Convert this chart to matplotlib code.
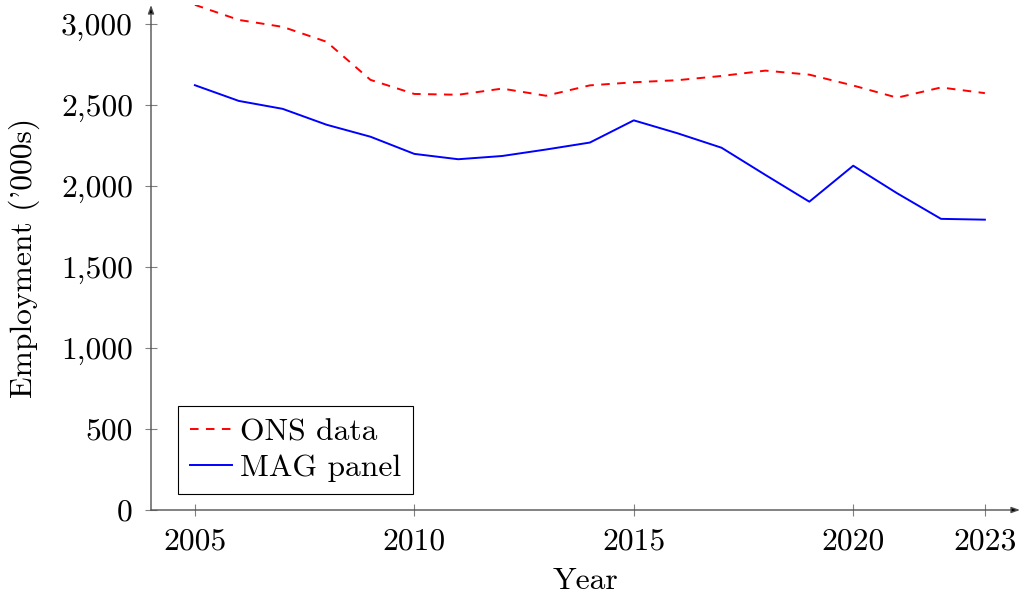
import matplotlib
matplotlib.use("Agg")
import matplotlib.pyplot as plt
from matplotlib.ticker import FuncFormatter

years = list(range(2005, 2024))
ons_data = [3118, 3025, 2982, 2890, 2655, 2568, 2563, 2601, 2557, 2621,
            2640, 2653, 2679, 2712, 2687, 2620, 2545, 2608, 2573]
mag_panel = [2622, 2525, 2476, 2378, 2304, 2198, 2165, 2185, 2225, 2268,
             2405, 2325, 2236, 2068, 1903, 2125, 1955, 1797, 1792]
xticks = [2005, 2010, 2015, 2020, 2023]
yticks = [0, 500, 1000, 1500, 2000, 2500, 3000]

plt.rcParams['font.family'] = ['cmr10', 'DejaVu Serif']
plt.rcParams['axes.formatter.use_mathtext'] = True
FS = 22.7

fig = plt.figure(figsize=(10.24, 5.98), dpi=100)
ax = fig.add_axes([151/1024, 88/598, 869/1024, 505/598])

lw = 1.4
ax.plot(years, ons_data, color=(1, 0, 0), lw=lw, dashes=(4.4, 3.8), label='ONS data')
ax.plot(years, mag_panel, color=(0, 0, 1), lw=lw, label='MAG panel')

ax.set_xlim(2004, 2023.8)
ax.set_ylim(0, 3117)

for s in ax.spines.values():
    s.set_visible(False)

axis_col = '#505050'
ax.annotate('', xy=(1.0, 0), xytext=(0, 0), xycoords='axes fraction',
            arrowprops=dict(arrowstyle='-|>,head_length=0.5,head_width=0.18',
                            color=axis_col, lw=1.0, shrinkA=0, shrinkB=0,
                            fc='black', ec=axis_col))
ax.annotate('', xy=(0, 1.0), xytext=(0, 0), xycoords='axes fraction',
            arrowprops=dict(arrowstyle='-|>,head_length=0.5,head_width=0.18',
                            color=axis_col, lw=1.0, shrinkA=0, shrinkB=0,
                            fc='black', ec=axis_col))

ax.set_xticks(xticks)
ax.set_xticklabels([str(x) for x in xticks])
ax.set_yticks(yticks)
ax.yaxis.set_major_formatter(FuncFormatter(lambda v, p: f"{int(v):,}"))
ax.tick_params(direction='inout', length=8, width=0.8, color='#808080',
               labelsize=FS, pad=6)
ax.tick_params(axis='y', pad=9)
ax.tick_params(axis='x', pad=9)

ax.set_xlabel('Year', fontsize=FS, labelpad=9)
ax.set_ylabel("Employment ('000s)", fontsize=FS, labelpad=15)

leg = ax.legend(loc='lower left', bbox_to_anchor=(0.0307, 0.0317), borderaxespad=0,
                fontsize=FS, frameon=True, fancybox=False, edgecolor='black',
                framealpha=1, handlelength=1.35, handletextpad=0.25,
                borderpad=0.38, labelspacing=0.25)
leg.get_frame().set_linewidth(0.8)

fig.savefig('out.png', dpi=100)
